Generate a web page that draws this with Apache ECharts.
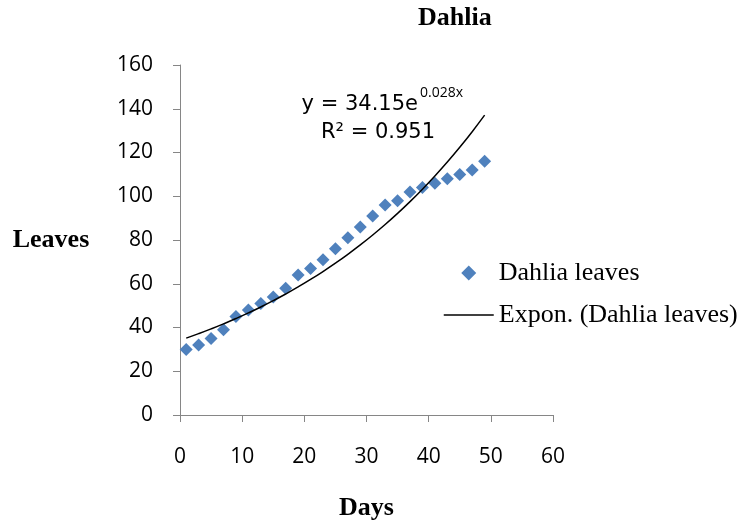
<!DOCTYPE html>
<html>
<head>
<meta charset="utf-8">
<script src="https://cdn.jsdelivr.net/npm/echarts@6/dist/echarts.min.js"></script>
<style>
  html, body { margin: 0; padding: 0; background: #ffffff; }
  #chart { width: 744px; height: 526px; }
</style>
</head>
<body>
<div id="chart"></div>
<script>
// ---- Data ----
const days = [1, 3, 5, 7, 9, 11, 13, 15, 17, 19, 21, 23, 25, 27, 29, 31, 33, 35, 37, 39, 41, 43, 45, 47, 49];
const leaves = [30, 32, 35, 39, 45, 48, 51, 54, 58, 64, 67, 71, 76, 81, 86, 91, 96, 98, 102, 104, 106, 108, 110, 112, 116];
const xTicks = [0, 10, 20, 30, 40, 50, 60];
const yTicks = [0, 20, 40, 60, 80, 100, 120, 140, 160];
const chartTitle = 'Dahlia';
const seriesName = 'Dahlia leaves';
const trendName = 'Expon. (Dahlia leaves)';
const xName = 'Days';
const yName = 'Leaves';
const eqMain = 'y = 34.15e';
const eqSup = '0.028x';
const eqR2 = 'R² = 0.951';

// Exponential trendline (least squares on ln y), as Excel's trendline does
const n = days.length;
let sx = 0, sy = 0, sxx = 0, sxy = 0;
for (let i = 0; i < n; i++) {
  const ly = Math.log(leaves[i]);
  sx += days[i]; sy += ly; sxx += days[i] * days[i]; sxy += days[i] * ly;
}
const b = (n * sxy - sx * sy) / (n * sxx - sx * sx);
const a = Math.exp((sy - b * sx) / n);
const trend = days.map(d => [d, a * Math.exp(b * d)]);

const serif = '"Liberation Serif", "Times New Roman", serif';
const sans = '"Open Sans", "Liberation Sans", sans-serif';
const eqFont = '"DejaVu Sans", "Open Sans", sans-serif';

const chart = echarts.init(document.getElementById('chart'), null, { renderer: 'canvas' });
chart.setOption({
  backgroundColor: '#ffffff',
  animation: false,
  title: {
    text: chartTitle,
    left: 418, top: 5, padding: 0,
    textStyle: { fontFamily: serif, fontWeight: 'bold', fontSize: 26, color: '#000' }
  },
  legend: {
    orient: 'vertical',
    left: 443, top: 260,
    padding: 0,
    itemWidth: 50, itemHeight: 15, itemGap: 16,
    symbolKeepAspect: true,
    textStyle: { fontFamily: serif, fontSize: 26, color: '#000', lineHeight: 26 },
    data: [
      { name: seriesName, icon: 'path://M5,0 L10,5 L5,10 L0,5 Z', itemStyle: { color: '#4F81BD', opacity: 1 } },
      { name: trendName, itemStyle: { opacity: 0 }, lineStyle: { color: '#000', width: 1.5, opacity: 1 } }
    ]
  },
  grid: { left: 180, right: 191, top: 65, bottom: 110, containLabel: false },
  xAxis: {
    type: 'value', min: xTicks[0], max: xTicks[xTicks.length - 1], interval: 10,
    name: xName, nameLocation: 'middle', nameGap: 93,
    nameTextStyle: { fontFamily: serif, fontWeight: 'bold', fontSize: 26, color: '#000', align: 'center', verticalAlign: 'middle' },
    axisLine: { show: true, onZero: false, lineStyle: { color: '#868686', width: 1 } },
    axisTick: { show: true, inside: false, length: 7, lineStyle: { color: '#868686' } },
    axisLabel: { show: true, margin: 32, fontFamily: sans, fontSize: 21, color: '#000' },
    splitLine: { show: false }
  },
  yAxis: {
    type: 'value', min: yTicks[0], max: yTicks[yTicks.length - 1], interval: 20,
    name: yName, nameLocation: 'middle', nameRotate: 0, nameGap: 129,
    nameTextStyle: { fontFamily: serif, fontWeight: 'bold', fontSize: 26, color: '#000', align: 'center', verticalAlign: 'middle', padding: [4, 0, 0, 0] },
    axisLine: { show: true, onZero: false, lineStyle: { color: '#868686', width: 1 } },
    axisTick: { show: true, inside: false, length: 7, lineStyle: { color: '#868686' } },
    axisLabel: { show: true, margin: 27, fontFamily: sans, fontSize: 21, color: '#000' },
    splitLine: { show: false }
  },
  series: [
    {
      name: seriesName,
      type: 'scatter',
      symbol: 'diamond',
      symbolSize: 13,
      itemStyle: { color: '#4F81BD', opacity: 1 },
      emphasis: { disabled: true },
      data: days.map((d, i) => [d, leaves[i]]),
      z: 2
    },
    {
      name: trendName,
      type: 'line',
      symbol: 'none',
      smooth: true,
      lineStyle: { color: '#000', width: 1.5 },
      itemStyle: { color: '#000' },
      emphasis: { disabled: true },
      data: trend,
      z: 3
    }
  ],
  graphic: [
    {
      type: 'text', x: 418, y: 105,
      style: { text: eqMain, fontFamily: eqFont, fontSize: 21, fill: '#000', align: 'right', verticalAlign: 'middle' }
    },
    {
      type: 'text', x: 420, y: 93,
      style: { text: eqSup, fontFamily: sans, fontSize: 14, fill: '#000', align: 'left', verticalAlign: 'middle' }
    },
    {
      type: 'text', x: 378, y: 133,
      style: { text: eqR2, fontFamily: eqFont, fontSize: 21, fill: '#000', align: 'center', verticalAlign: 'middle' }
    }
  ]
});
</script>
</body>
</html>
